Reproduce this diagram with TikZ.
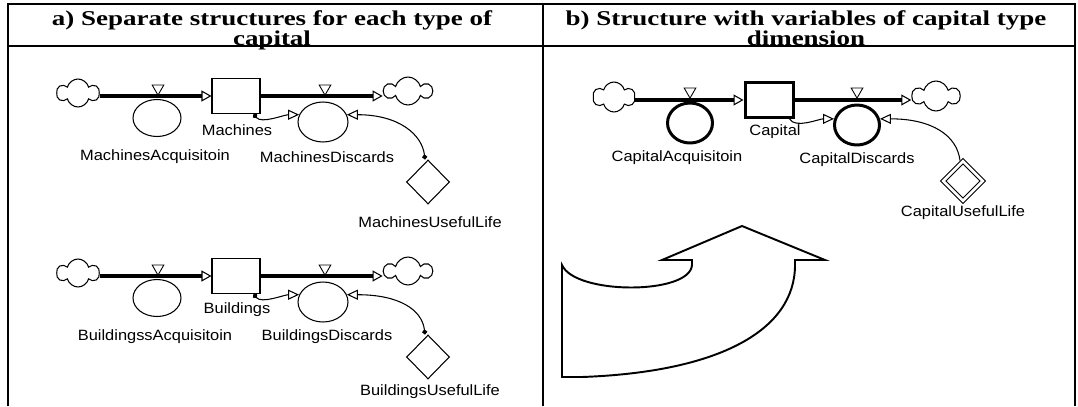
\documentclass[tikz,border=0pt]{standalone}
\usepackage{fontspec}
\setmainfont{Liberation Serif}
\newfontfamily\headfont[FakeStretch=1.28]{Liberation Serif}
\newfontfamily\labelfont[FakeStretch=1.1]{Liberation Sans}
\usetikzlibrary{shapes.geometric,shapes.symbols,arrows.meta,positioning}
\lineskiplimit=-20pt

\tikzset{
  stock/.style={draw, rectangle, minimum width=0.96cm, minimum height=0.7cm, inner sep=0},
  rate/.style={draw, ellipse, minimum width=0.96cm, minimum height=0.74cm, inner sep=0},
  valve/.style={draw, regular polygon, regular polygon sides=3, shape border rotate=180,
    minimum size=0.27cm, inner sep=0, anchor=corner 1, line width=0.5pt},
  sink/.style={draw, cloud, cloud puffs=6, cloud ignores aspect, minimum width=0.84cm,
    minimum height=0.56cm, inner sep=0},
  const/.style={draw, diamond, minimum width=0.86cm, minimum height=0.88cm, inner sep=0},
  lbl/.style={font=\labelfont\fontsize{8.5}{10}\selectfont, inner sep=0},
  head/.style={font=\headfont\bfseries\fontsize{12}{11.3}\selectfont, align=center, inner sep=0, anchor=north},
  pipe/.style={line width=1.9pt, -{Triangle[open, length=0.2cm, width=0.22cm, line width=0.6pt]}},
  link/.style={line width=0.6pt, -{Triangle[open, length=0.22cm, width=0.2cm]}},
  linkdot/.style={line width=0.6pt, {Circle[length=0.1cm]}-{Triangle[open, length=0.22cm, width=0.2cm]}},
}

\begin{document}
\begin{tikzpicture}[x=0.02cm, y=-0.02cm, line width=0.6pt]
\useasboundingbox (0,0) rectangle (1078,406);

% table frame
\draw[line width=1.2pt] (8,406) -- (8,4) -- (1075,4) -- (1075,406);
\draw[line width=0.8pt] (543,4) -- (543,406);
\draw (8,46) -- (1075,46);
\node[head] (heada) at (272,10) {a) Separate structures for each type of\\capital};
\node[head] (headb) at (806,10) {b) Structure with variables of capital type\\dimension};

% a) one structure per capital type
\foreach \nm/\acq/\dy/\ly in {Machines/MachinesAcquisitoin/0/0, Buildings/BuildingssAcquisitoin/180/-5}{
  \begin{scope}[shift={(0,\dy)}]
    \node[sink] (\nm-src) at (78,93) {};
    \node[stock] (\nm) at (236,96) {};
    \node[sink, minimum width=0.94cm] (\nm-snk) at (408,91) {};
    \node[rate] (\nm-acq) at (157,118) {};
    \node[rate, minimum width=1cm, minimum height=0.8cm] (\nm-dis) at (323,122) {};
    \node[const] (\nm-life) at (428,182+\ly) {};
    \draw[pipe] (\nm-src.east |- \nm) -- (\nm.west);
    \draw[pipe] (\nm.east) -- (\nm -| \nm-snk.west);
    \node[valve] (\nm-v1) at (158,96) {};
    \node[valve] (\nm-v2) at (325,96) {};
    \node[lbl] (\nm-lbl) at (237,130) {\nm};
    \node[lbl] (\nm-acqlbl) at (155,157) {\acq};
    \node[lbl] (\nm-dislbl) at (327,157) {\nm Discards};
    \node[lbl] (\nm-lifelbl) at (430,222+2*\ly) {\nm UsefulLife};
    \draw[linkdot] ([xshift=-0.14cm]\nm.south east)
      .. controls +(8,10) and +(-15,0) .. (\nm-dis.163);
    \draw[linkdot] ([xshift=-0.06cm]\nm-life.north)
      .. controls +(-3,-25) and +(52,0) .. (\nm-dis.17);
  \end{scope}
}

% b) one structure with capital type dimension
\node[sink, minimum height=0.6cm] (csrc) at (614,97) {};
\node[stock, line width=1.7pt] (capital) at (769,100) {};
\node[sink, minimum width=0.94cm, minimum height=0.6cm] (csnk) at (936,96) {};
\node[rate, line width=1.7pt, minimum width=0.9cm, minimum height=0.8cm] (cacq) at (690,123) {};
\node[rate, line width=1.7pt, minimum width=0.9cm, minimum height=0.8cm] (cdis) at (857,125) {};
\node[const, double, double distance=1.5pt, minimum width=0.8cm, minimum height=0.8cm] (clife) at (963,181) {};
\draw[pipe, line width=2.4pt] (csrc.east |- capital) -- (capital.west);
\draw[pipe, line width=2.4pt] (capital.east) -- (capital -| csnk.west);
\node[valve] (cv1) at (690,99) {};
\node[valve] (cv2) at (857,99) {};
\node[lbl] (caplbl) at (775,132) {Capital};
\node[lbl] (cacqlbl) at (677,158) {CapitalAcquisitoin};
\node[lbl] (cdislbl) at (857,160) {CapitalDiscards};
\node[lbl] (clifelbl) at (963,213) {CapitalUsefulLife};
\draw[link] ([xshift=-0.1cm]capital.south east) .. controls +(6,10) and +(-15,0) .. (cdis.165);
\draw[link] ([xshift=-0.06cm]clife.north) .. controls +(-3,-25) and +(52,0) .. (cdis.15);

% big curved arrow
\draw[line width=1.1pt, line join=miter] (562,265) -- (562,377) -- (582,377)
  .. controls (720,372) and (795,330) .. (795,265) -- (795,260) -- (825,260)
  -- (742,226) -- (662,260) -- (692,260) -- (692,265)
  .. controls (690,295) and (575,295) .. (562,265) -- cycle;
\end{tikzpicture}
\end{document}
